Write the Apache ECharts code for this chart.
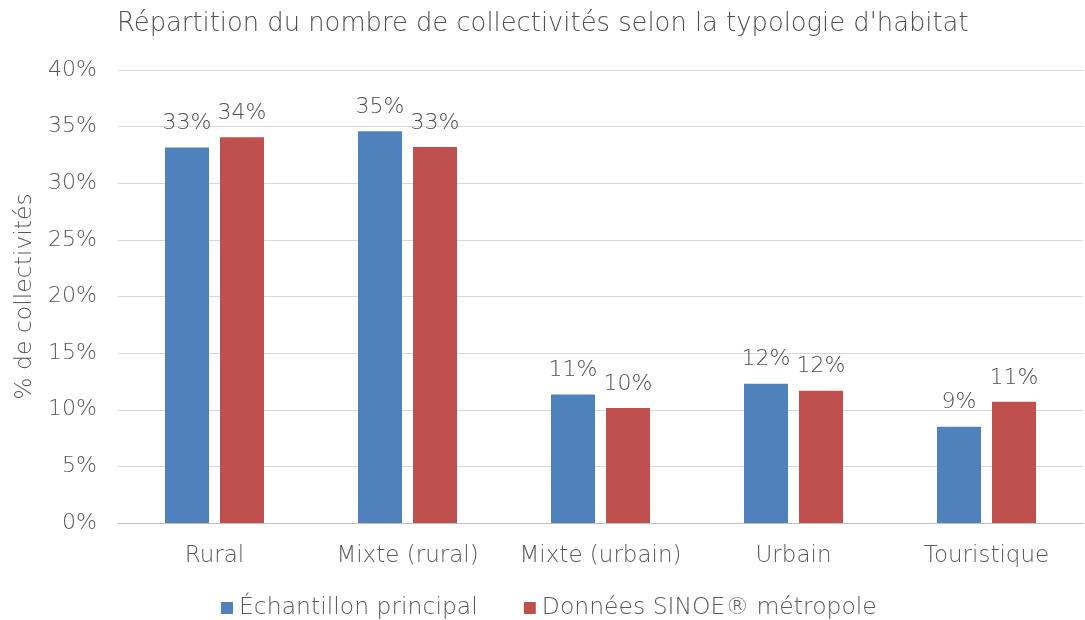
<!DOCTYPE html>
<html><head><meta charset="utf-8">
<script src="https://cdn.jsdelivr.net/npm/echarts@6/dist/echarts.min.js"></script>
<style>html,body{margin:0;padding:0;background:#fff}#c{width:1085px;height:620px}</style>
</head><body><div id="c"></div>
<script>
const categories = ['Rural', 'Mixte (rural)', 'Mixte (urbain)', 'Urbain', 'Touristique'];
const seriesNames = ['Échantillon principal', 'Données SINOE® métropole'];
const echantillon = [33.15, 34.6, 11.35, 12.3, 8.5];
const sinoe = [34.06, 33.2, 10.16, 11.68, 10.7];
const titleText = "Répartition du nombre de collectivités selon la typologie d'habitat";
const yAxisName = '% de collectivités';

const FONT = '"DejaVu Sans"';
const FW = 200;
const TXT = '#595959';
const chart = echarts.init(document.getElementById('c'));
const labelCfg = {
  show: true, position: 'top', distance: 13,
  formatter: p => Math.round(p.value) + '%',
  color: '#505050', fontFamily: FONT, fontWeight: FW, fontSize: 22
};
chart.setOption({
  animation: false,
  title: { text: titleText, left: 112, top: 6,
    textStyle: { color: '#505050', fontFamily: FONT, fontWeight: FW, fontSize: 25.8 } },
  legend: { bottom: -5, left: 216, itemGap: 46, itemWidth: 12, itemHeight: 12,
    icon: 'rect',
    textStyle: { color: TXT, fontFamily: FONT, fontWeight: FW, fontSize: 23.5, padding: [0,0,0,1] },
    data: seriesNames },
  grid: { left: 118, right: 2, top: 70, bottom: 97 },
  xAxis: { type: 'category', data: categories,
    axisLine: { lineStyle: { color: '#bfbfbf', width: 1 } },
    axisTick: { show: false },
    axisLabel: { color: TXT, fontFamily: FONT, fontWeight: FW, fontSize: 23, margin: 22, interval: 0 } },
  yAxis: { type: 'value', min: 0, max: 40, interval: 5,
    name: yAxisName, nameLocation: 'middle', nameGap: 68, nameRotate: 90,
    nameTextStyle: { color: TXT, fontFamily: FONT, fontWeight: FW, fontSize: 23.5 },
    axisLine: { show: false }, axisTick: { show: false },
    splitLine: { lineStyle: { color: '#d9d9d9', width: 1 } },
    axisLabel: { color: TXT, fontFamily: FONT, fontWeight: FW, fontSize: 22, margin: 21,
      formatter: v => v + '%' } },
  series: [
    { name: seriesNames[0], type: 'bar', data: echantillon, barWidth: 44, barGap: '25%',
      itemStyle: { color: '#4F81BD' }, label: labelCfg },
    { name: seriesNames[1], type: 'bar', data: sinoe, barWidth: 44,
      itemStyle: { color: '#C0504D' }, label: labelCfg }
  ]
});
</script></body></html>
